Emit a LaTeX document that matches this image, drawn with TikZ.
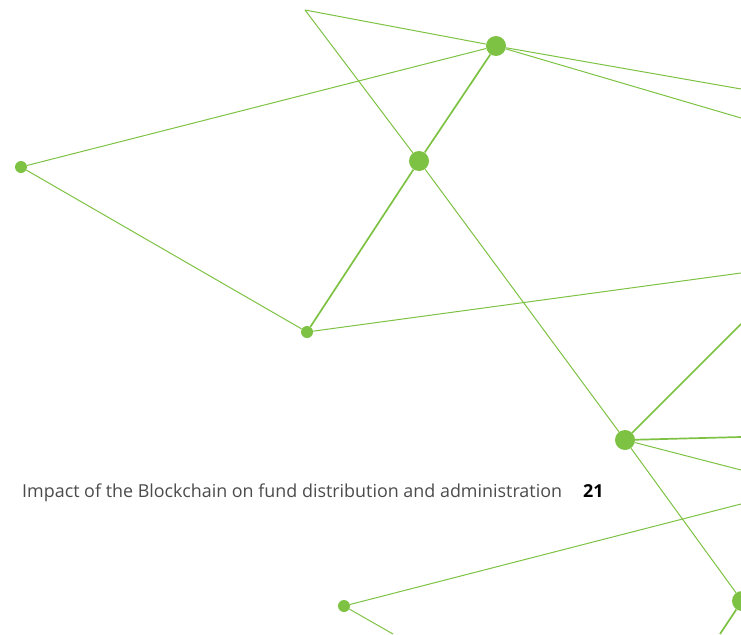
\documentclass[tikz,border=0pt]{standalone}
\usepackage{fontspec}
\setmainfont{Open Sans}
\usepackage{xcolor}
\definecolor{chaingreen}{RGB}{125,194,66}
\definecolor{pagegrey}{RGB}{75,75,75}

\tikzset{
  bigdot/.style={circle, fill=chaingreen, inner sep=0pt, minimum size=20pt},
  smalldot/.style={circle, fill=chaingreen, inner sep=0pt, minimum size=12pt},
  link/.style={draw=chaingreen, line width=1pt},
  strong/.style={draw=chaingreen, line width=1.7pt},
}

\begin{document}
\begin{tikzpicture}[x=1pt, y=-1pt]
\useasboundingbox (0,0) rectangle (741,634);
\clip (0,0) rectangle (741,634);

% loose ends at the page edges
\coordinate (apex) at (305,10);
\coordinate (r1) at (741,89);
\coordinate (r2) at (741,118);
\coordinate (r3) at (741,273);
\coordinate (r4) at (741,324);
\coordinate (r5) at (741,437);
\coordinate (r6) at (741,470);
\coordinate (r7) at (741,504);
\coordinate (b1) at (393,634);
\coordinate (b2) at (720,634);

% dots
\node[bigdot] (top) at (496,46) {};
\node[bigdot] (mid) at (419,161) {};
\node[smalldot] (left) at (21,167) {};
\node[smalldot] (low) at (307,332) {};
\node[bigdot] (hub) at (625,440) {};
\node[bigdot] (edge) at (742,601) {};
\node[smalldot] (foot) at (344,606) {};

\foreach \i/\j in {apex/top, apex/mid, top/left, top/r1, top/r2, left/low, low/r3, mid/hub, hub/r6, hub/edge, foot/r7, foot/b1}
\draw[link] (\i) -- (\j);

\foreach \i/\j in {top/mid, mid/low, hub/r4, hub/r5, edge/b2}
\draw[strong] (\i) -- (\j);

\node[anchor=base west, inner sep=0pt, text=pagegrey] (title) at (22,497) {\fontsize{17.9}{21}\selectfont Impact of the Blockchain on fund distribution and administration};
\node[anchor=base west, inner sep=0pt, text=black] (page) at (583,497) {\fontsize{17.9}{21}\selectfont\bfseries 21};

\end{tikzpicture}
\end{document}
